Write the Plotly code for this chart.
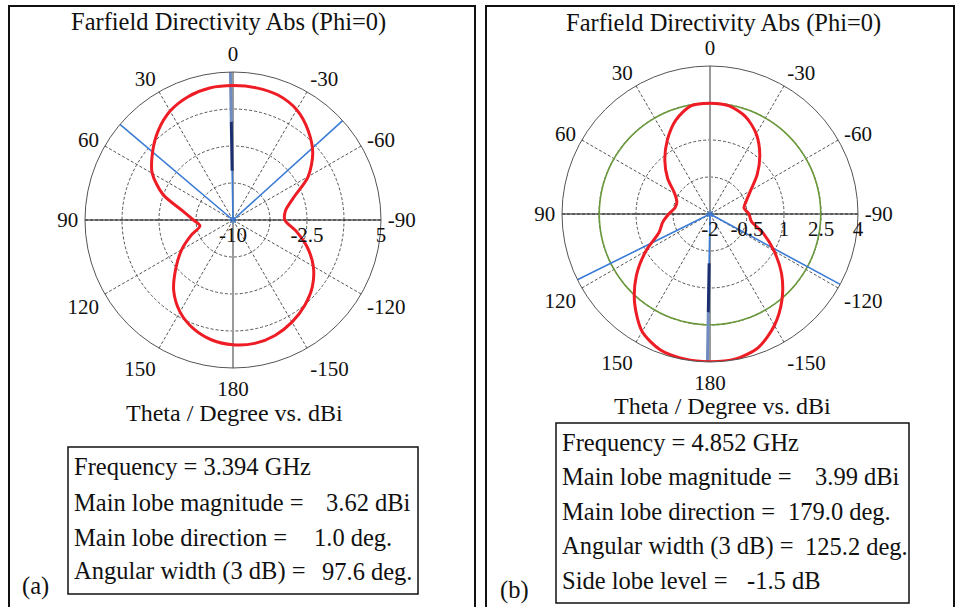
import plotly.graph_objects as go

W, H = 955, 607

# ---------------- data ----------------
theta_deg = [-180, -170, -160, -150, -140, -130, -120, -110, -100, -90, -80, -70, -60, -50, -40, -30, -20, -10,
             0, 10, 20, 30, 40, 50, 60, 70, 80, 90, 100, 110, 120, 130, 140, 150, 160, 170, 180]

dir_a = [2.65, 2.7, 2.45, 1.95, 1.3, 0.5, -0.6, -2.0, -3.5, -4.75, -4.6, -3.5, -1.2, 0.55, 1.85, 2.9, 3.45, 3.6,
         3.62, 3.58, 3.3, 2.75, 1.8, 0.65, -0.55, -2.45, -4.85, -6.0, -6.6, -5.5, -4.0, -2.45, -0.65, 0.75, 1.72, 2.35, 2.65]

dir_b = [3.99, 3.97, 3.75, 3.22, 2.54, 1.79, 1.0, 0.3, -0.3, -0.42, -0.6, -0.43, -0.1, 0.5, 1.14, 1.75, 2.2, 2.45,
         2.49, 2.45, 2.05, 1.46, 0.85, 0.24, -0.35, -0.57, -0.56, -0.33, -0.05, 0.2, 1.0, 1.9, 2.75, 3.5, 3.87, 3.97, 3.99]

# radial axis settings
r_range_a = [-10, 5]
r_ticks_a = [-10, -6.25, -2.5, 1.25, 5]
r_text_a = ["-10", "", "-2.5", "", "5"]
r_range_b = [-2, 4]
r_ticks_b = [-2, -0.5, 1, 2.5, 4]
r_text_b = ["-2", "-0.5", "1", "2.5", "4"]

ang_tickvals = [0, 30, 60, 90, 120, 150, 180, 210, 240, 270, 300, 330]
ang_ticktext = ["0", "30", "60", "90", "120", "150", "180", "-150", "-120", "-90", "-60", "-30"]

# main lobe direction and 3 dB beamwidth edges
main_dir_a = 1.0
beam_edges_a = [49.8, -47.8]
main_dir_b = 179.0
beam_edges_b = [116.4, -118.4]
side_lobe_abs_b = 2.49

info_a = [("Frequency = 3.394 GHz", None),
          ("Main lobe magnitude =", "3.62 dBi"),
          ("Main lobe direction =", "1.0 deg."),
          ("Angular width (3 dB) =", "97.6 deg.")]
info_b = [("Frequency = 4.852 GHz", None),
          ("Main lobe magnitude =", "3.99 dBi"),
          ("Main lobe direction =", "179.0 deg."),
          ("Angular width (3 dB) =", "125.2 deg."),
          ("Side lobe level =", "-1.5 dB")]

TITLE = "Farfield Directivity Abs (Phi=0)"
XLABEL = "Theta / Degree vs. dBi"

FONT = "Liberation Serif"
RED = "#ee1c24"
BLUE = "#3a7bd5"
NAVY = "#1b2f70"
BLUEGRAY = "#6f8cc0"
GREEN = "#6b9a3c"

fig = go.Figure()


def add_panel(sub, theta, vals, rr, main_dir, edges, green=None):
    rmin, rmax = rr
    span = rmax - rmin
    # axis lines through centre
    fig.add_trace(go.Scatterpolar(theta=[0, 180], r=[rmax, rmax], mode="lines",
                                  line=dict(color="#9a9a9a", width=2), subplot=sub,
                                  showlegend=False, hoverinfo="skip"))
    fig.add_trace(go.Scatterpolar(theta=[90, -90], r=[rmax, rmax], mode="lines",
                                  line=dict(color="#111111", width=1), subplot=sub,
                                  showlegend=False, hoverinfo="skip"))
    if green is not None:
        th = list(range(0, 361, 3))
        fig.add_trace(go.Scatterpolar(theta=th, r=[green] * len(th), mode="lines",
                                      line=dict(color=GREEN, width=1.6), subplot=sub,
                                      showlegend=False, hoverinfo="skip"))
    # beamwidth lines
    for e in edges:
        fig.add_trace(go.Scatterpolar(theta=[e, e], r=[rmin, rmax], mode="lines",
                                      line=dict(color=BLUE, width=1.6), subplot=sub,
                                      showlegend=False, hoverinfo="skip"))
    # main lobe direction line (three segments)
    fig.add_trace(go.Scatterpolar(theta=[main_dir, main_dir], r=[rmin, rmin + span / 3], mode="lines",
                                  line=dict(color=BLUE, width=1.6), subplot=sub,
                                  showlegend=False, hoverinfo="skip"))
    fig.add_trace(go.Scatterpolar(theta=[main_dir, main_dir], r=[rmin + span / 3, rmin + 2 * span / 3], mode="lines",
                                  line=dict(color=NAVY, width=3), subplot=sub,
                                  showlegend=False, hoverinfo="skip"))
    fig.add_trace(go.Scatterpolar(theta=[main_dir, main_dir], r=[rmin + 2 * span / 3, rmax], mode="lines",
                                  line=dict(color=BLUEGRAY, width=3), subplot=sub,
                                  showlegend=False, hoverinfo="skip"))
    # pattern
    fig.add_trace(go.Scatterpolar(theta=theta, r=vals, mode="lines",
                                  line=dict(color=RED, width=3, shape="spline", smoothing=0.8),
                                  subplot=sub, showlegend=False, hoverinfo="skip"))
    fig.add_trace(go.Scatterpolar(theta=[0], r=[rmin], mode="markers",
                                  marker=dict(symbol="asterisk-open", size=7, color=BLUE,
                                              line=dict(color=BLUE, width=1)),
                                  subplot=sub, showlegend=False, hoverinfo="skip"))


add_panel("polar", theta_deg, dir_a, r_range_a, main_dir_a, beam_edges_a)
add_panel("polar2", theta_deg, dir_b, r_range_b, main_dir_b, beam_edges_b, green=side_lobe_abs_b)


def polar_layout(cx, cy, rad, rr, tv, tt):
    return dict(
        domain=dict(x=[(cx - rad) / W, (cx + rad) / W], y=[1 - (cy + rad) / H, 1 - (cy - rad) / H]),
        bgcolor="white",
        angularaxis=dict(rotation=90, direction="counterclockwise", tickmode="array",
                         tickvals=ang_tickvals, ticktext=ang_ticktext,
                         ticks="outside", ticklen=2, tickcolor="rgba(0,0,0,0)",
                         showline=True, linecolor="#555555", linewidth=1,
                         showgrid=True, gridcolor="#555555", gridwidth=0.8, griddash="3px,2px",
                         tickfont=dict(family=FONT, size=21, color="#111111")),
        radialaxis=dict(range=rr, tickmode="array", tickvals=tv, ticktext=tt, angle=0,
                        side="clockwise", tickangle=0, ticks="", showline=False,
                        showgrid=True, gridcolor="#555555", gridwidth=0.8, griddash="3px,2px",
                        tickfont=dict(family=FONT, size=21, color="#111111")),
    )


annotations = []


def txt(x, y, s, size=24.5, xanchor="center"):
    annotations.append(dict(x=x / W, y=1 - y / H, xref="paper", yref="paper", text=s, showarrow=False,
                            xanchor=xanchor, yanchor="middle",
                            font=dict(family=FONT, size=size, color="#111111")))


txt(228, 22, TITLE, size=24.5)
txt(723, 23, TITLE, size=24.5)
txt(234, 413, XLABEL, size=24)
txt(722, 406, XLABEL, size=24)

# info boxes (value x positions: left edge, or right edge when anchor is "right")
ys_a = [467, 502, 537, 571]
val_pos_a = [None, (413, "right"), (312, "left"), (320, "left")]
for (lab, val), y, vp in zip(info_a, ys_a, val_pos_a):
    txt(72, y, lab, xanchor="left")
    if val:
        txt(vp[0], y, val, xanchor=vp[1])
ys_b = [442, 476, 511, 546, 580]
val_pos_b = [None, (902, "right"), (786, "left"), (803, "left"), (745, "left")]
for (lab, val), y, vp in zip(info_b, ys_b, val_pos_b):
    txt(560, y, lab, xanchor="left")
    if val:
        txt(vp[0], y, val, xanchor=vp[1])
txt(35, 586, "(a)", xanchor="center")
txt(514, 590, "(b)", xanchor="center")


def rect(x0, y0, x1, y1, w):
    return dict(type="rect", xref="paper", yref="paper", x0=x0 / W, x1=x1 / W,
                y0=1 - y1 / H, y1=1 - y0 / H, line=dict(color="#111111", width=w), fillcolor="rgba(0,0,0,0)")


shapes = [rect(9, 6, 475, 640, 2), rect(486, 6, 954, 640, 2),
          rect(68, 447, 418, 594, 1.5), rect(556, 423, 909, 603, 1.5)]

fig.update_layout(
    width=W, height=H, margin=dict(l=0, r=0, t=0, b=0),
    paper_bgcolor="white", plot_bgcolor="white",
    polar=polar_layout(233, 220, 148, r_range_a, r_ticks_a, r_text_a),
    polar2=polar_layout(710, 214, 148, r_range_b, r_ticks_b, r_text_b),
    annotations=annotations, shapes=shapes, showlegend=False,
)

fig.write_html("out.html")
